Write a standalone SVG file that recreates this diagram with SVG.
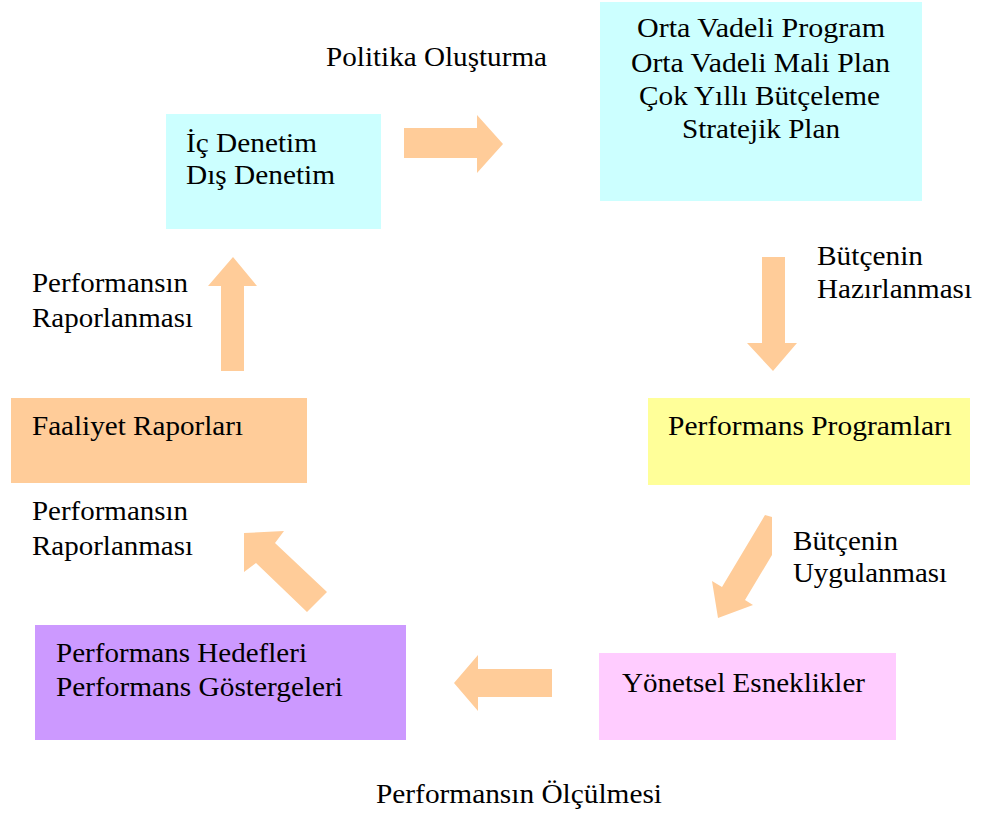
<svg xmlns="http://www.w3.org/2000/svg" width="992" height="817" viewBox="0 0 992 817">
  <style>
    text { font-family: 'Liberation Serif', 'DejaVu Serif', serif; font-size: 27px; fill: #000; }
    .arrow { fill: #FFCC99; }
  </style>
  <rect width="992" height="817" fill="#ffffff"/>

  <!-- Nodes -->
  <g id="denetim">
    <rect x="166" y="114" width="215" height="115" fill="#CCFFFF"/>
    <text x="186" y="152" textLength="131" lengthAdjust="spacingAndGlyphs">İç Denetim</text>
    <text x="186" y="184" textLength="149" lengthAdjust="spacingAndGlyphs">Dış Denetim</text>
  </g>

  <g id="planlama">
    <rect x="600" y="2" width="322" height="199" fill="#CCFFFF"/>
    <text x="637" y="37" textLength="248" lengthAdjust="spacingAndGlyphs">Orta Vadeli Program</text>
    <text x="631" y="72" textLength="259" lengthAdjust="spacingAndGlyphs">Orta Vadeli Mali Plan</text>
    <text x="639" y="105" textLength="241" lengthAdjust="spacingAndGlyphs">Çok Yıllı Bütçeleme</text>
    <text x="682" y="138" textLength="158" lengthAdjust="spacingAndGlyphs">Stratejik Plan</text>
  </g>

  <g id="performans-programlari">
    <rect x="648" y="398" width="322" height="87" fill="#FFFF99"/>
    <text x="668" y="435" textLength="284" lengthAdjust="spacingAndGlyphs">Performans Programları</text>
  </g>

  <g id="yonetsel-esneklikler">
    <rect x="599" y="653" width="297" height="87" fill="#FFCCFF"/>
    <text x="622" y="692" textLength="243" lengthAdjust="spacingAndGlyphs">Yönetsel Esneklikler</text>
  </g>

  <g id="performans-hedefleri">
    <rect x="35" y="625" width="371" height="115" fill="#CC99FF"/>
    <text x="56" y="662" textLength="251" lengthAdjust="spacingAndGlyphs">Performans Hedefleri</text>
    <text x="56" y="696" textLength="287" lengthAdjust="spacingAndGlyphs">Performans Göstergeleri</text>
  </g>

  <g id="faaliyet-raporlari">
    <rect x="11" y="398" width="296" height="85" fill="#FFCC99"/>
    <text x="32" y="435" textLength="211" lengthAdjust="spacingAndGlyphs">Faaliyet Raporları</text>
  </g>

  <!-- Connectors: block arrows -->
  <g id="connectors">
    <polygon class="arrow" points="404,128 477,128 477,115 503,144 477,173 477,158 404,158"/>
    <polygon class="arrow" points="762,257 785,257 785,343 797,343 773,371 747,343 762,343"/>
    <polygon class="arrow" points="765,515 772,517 772,555 745,600 753,605 718,618 712,581 722,587"/>
    <polygon class="arrow" points="552,669 552,697 478,697 478,711 454,683 478,655 478,669"/>
    <polygon class="arrow" points="327,592 307,612 256,563 244,572 244,533 284,531 275,543"/>
    <polygon class="arrow" points="221,371 244,371 244,286 257,286 233,257 208,286 221,286"/>
  </g>

  <!-- Edge labels -->
  <g id="labels">
    <text x="326" y="66" textLength="221" lengthAdjust="spacingAndGlyphs">Politika Oluşturma</text>
    <text x="817" y="265" textLength="106" lengthAdjust="spacingAndGlyphs">Bütçenin</text>
    <text x="817" y="298" textLength="155" lengthAdjust="spacingAndGlyphs">Hazırlanması</text>
    <text x="793" y="550" textLength="105" lengthAdjust="spacingAndGlyphs">Bütçenin</text>
    <text x="793" y="582" textLength="154" lengthAdjust="spacingAndGlyphs">Uygulanması</text>
    <text x="376" y="803" textLength="286" lengthAdjust="spacingAndGlyphs">Performansın Ölçülmesi</text>
    <text x="32" y="520" textLength="156" lengthAdjust="spacingAndGlyphs">Performansın</text>
    <text x="32" y="555" textLength="161" lengthAdjust="spacingAndGlyphs">Raporlanması</text>
    <text x="32" y="292" textLength="156" lengthAdjust="spacingAndGlyphs">Performansın</text>
    <text x="32" y="327" textLength="161" lengthAdjust="spacingAndGlyphs">Raporlanması</text>
  </g>
</svg>
